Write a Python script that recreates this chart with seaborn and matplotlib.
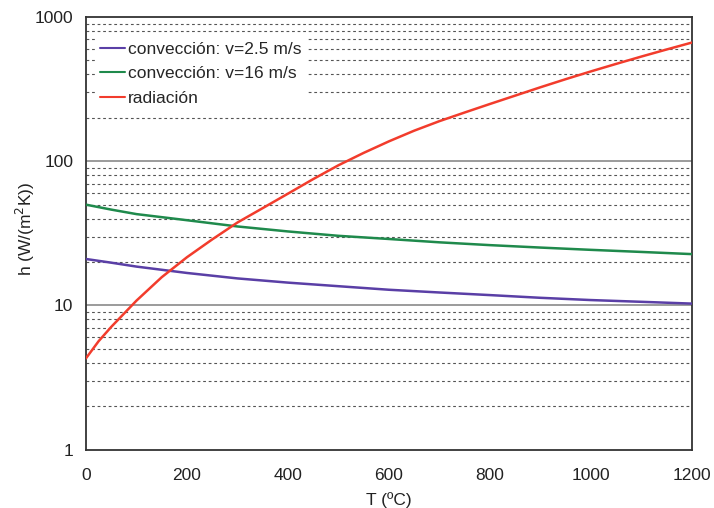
import numpy as np
import pandas as pd
import matplotlib
matplotlib.use('Agg')
import matplotlib.pyplot as plt
import matplotlib.ticker as mticker
import seaborn as sns

# Data
temps_conv = [0, 50, 100, 200, 300, 400, 500, 600, 700, 800, 900, 1000, 1100, 1200]
h_conv_25 = [21.0, 19.8, 18.6, 16.8, 15.4, 14.4, 13.6, 12.85, 12.3, 11.8, 11.3, 10.9, 10.6, 10.3]
h_conv_16 = [50.0, 46.2, 43.0, 39.0, 35.3, 32.6, 30.4, 28.9, 27.4, 26.2, 25.2, 24.3, 23.5, 22.7]

temps_rad = [0, 25, 50, 100, 150, 200, 250, 300, 350, 400, 450, 500, 550, 600,
             650, 700, 750, 800, 850, 900, 950, 1000, 1050, 1100, 1150, 1200]
h_rad = [4.3, 5.65, 7.1, 10.8, 15.7, 21.6, 28.7, 37.6, 47.3, 59.6, 75.2, 93.8,
         114.3, 137.4, 162.9, 189.7, 217.8, 249.5, 285.1, 325.8, 370.7, 419.8,
         473.2, 532.1, 595.7, 665.3]

labels = ['convección: v=2.5 m/s', 'convección: v=16 m/s', 'radiación']
colors = ['#5a3fa6', '#1f8a4c', '#f23c2c']

df = pd.concat([
    pd.DataFrame({'T': temps_conv, 'h': h_conv_25, 'serie': labels[0]}),
    pd.DataFrame({'T': temps_conv, 'h': h_conv_16, 'serie': labels[1]}),
    pd.DataFrame({'T': temps_rad, 'h': h_rad, 'serie': labels[2]}),
])

sns.set_style('white')
plt.rcParams['font.family'] = ['Liberation Sans', 'DejaVu Sans']

fig = plt.figure(figsize=(7.14, 5.08), dpi=100)
ax = fig.add_axes([0.1204, 0.1148, 0.8487, 0.8517])

# grid lines first so the curves sit on top
for dec in [1, 10, 100]:
    for m in range(2, 10):
        ax.axhline(dec * m, color='#555555', lw=0.8, ls=(0, (2.5, 2.5)), zorder=0)
for v in [10, 100]:
    ax.axhline(v, color='#8a8a8a', lw=1.2, zorder=0)

sns.lineplot(data=df, x='T', y='h', hue='serie', palette=colors,
             linewidth=1.8, ax=ax, zorder=3)

ax.set_yscale('log')
ax.set_xlim(0, 1200)
ax.set_ylim(1, 1000)
ax.xaxis.set_major_locator(mticker.MultipleLocator(200))
ax.yaxis.set_major_locator(mticker.FixedLocator([1, 10, 100, 1000]))
ax.yaxis.set_major_formatter(mticker.FixedFormatter(['1', '10', '100', '1000']))
ax.yaxis.set_minor_locator(mticker.NullLocator())
ax.tick_params(axis='both', which='major', direction='out', length=4, width=1,
               color='#333333', labelsize=12.5, labelcolor='#222222', pad=5)
ax.tick_params(axis='x', pad=9)

for s in ax.spines.values():
    s.set_color('#333333')
    s.set_linewidth(1.3)

ax.set_xlabel('T (ºC)', fontsize=12.5, color='#222222', labelpad=7)
ax.set_ylabel(r'h (W/(m$^{2}$K))', fontsize=12.5, color='#222222')
ax.yaxis.set_label_coords(-0.08, 0.51)

leg = ax.legend(loc='upper left', bbox_to_anchor=(0.003, 0.971), frameon=True,
                fontsize=12.5, handlelength=1.45, handletextpad=0.15,
                labelspacing=0.54, borderpad=0.2, fancybox=False)
leg.get_frame().set_edgecolor('white')
leg.get_frame().set_facecolor('white')
leg.get_frame().set_alpha(1)
leg.set_zorder(5)
for line in leg.get_lines():
    line.set_linewidth(1.5)

fig.savefig('out.png', dpi=100)
